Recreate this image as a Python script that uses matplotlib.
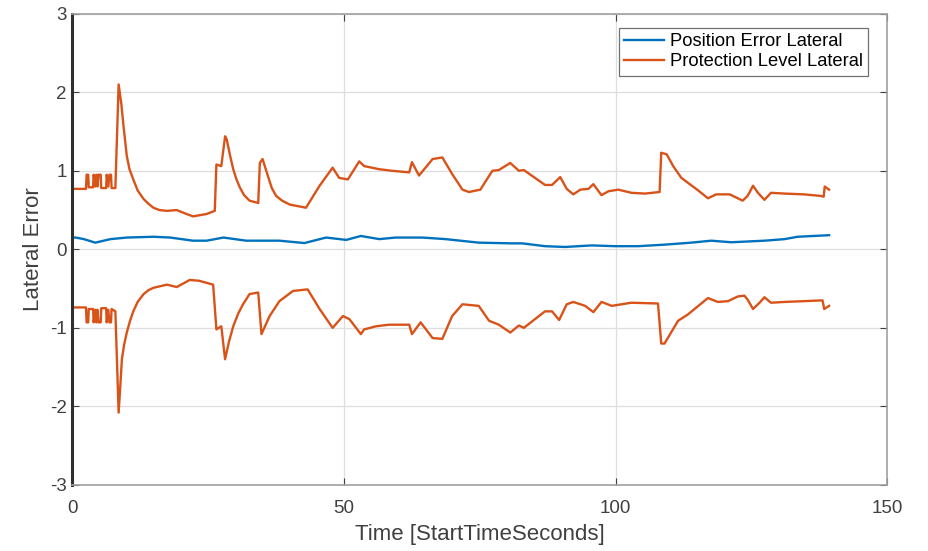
#!/usr/bin/python3

import numpy
import matplotlib
matplotlib.use("Agg")
import matplotlib.pyplot as plt

# values (time, value)
pe_lateral = [(0, 0.15), (0.6, 0.15), (2.1, 0.13), (4.2, 0.085), (7.0, 0.13),
              (10.0, 0.15), (14.9, 0.16), (18.0, 0.15), (22.2, 0.11), (24.7, 0.11),
              (27.8, 0.15), (32.0, 0.11), (38.1, 0.11), (42.7, 0.08), (46.7, 0.15),
              (50.4, 0.12), (53.1, 0.17), (56.5, 0.13), (59.5, 0.15), (64.4, 0.15),
              (68.7, 0.13), (74.8, 0.085), (80.9, 0.076), (82.8, 0.076), (87.0, 0.04),
              (90.7, 0.03), (95.6, 0.05), (99.9, 0.04), (104.2, 0.04), (109.1, 0.06),
              (113.9, 0.085), (117.6, 0.11), (121.3, 0.09), (127.4, 0.11),
              (131.1, 0.13), (133.5, 0.16), (139.3, 0.18)]

pl_upper = [(0, 0.77), (2.5, 0.77), (2.6, 0.95), (2.9, 0.95), (3.0, 0.79),
            (3.8, 0.79), (3.9, 0.95), (4.2, 0.80), (4.4, 0.95), (4.6, 0.80),
            (4.8, 0.95), (5.2, 0.95), (5.3, 0.78), (6.2, 0.78), (6.3, 0.95),
            (6.6, 0.80), (6.8, 0.95), (7.1, 0.95), (7.2, 0.78), (7.9, 0.78),
            (8.5, 2.10), (9.0, 1.85), (9.4, 1.57), (10.0, 1.19), (10.5, 1.02),
            (11.2, 0.89), (12.0, 0.75), (13.1, 0.64), (14.0, 0.58), (14.9, 0.53),
            (16.0, 0.50), (17.4, 0.49), (19.2, 0.50), (21.0, 0.45), (22.2, 0.42),
            (24.7, 0.45), (26.2, 0.49), (26.5, 1.08), (27.4, 1.06), (28.1, 1.44),
            (28.4, 1.40), (29.0, 1.20), (29.6, 1.02), (30.2, 0.89), (30.8, 0.79),
            (31.6, 0.69), (32.6, 0.62), (34.2, 0.59),
            (34.5, 1.10), (35.0, 1.15), (36.0, 0.93), (36.7, 0.78), (37.5, 0.68),
            (38.6, 0.62), (40.0, 0.57),
            (43.0, 0.53), (45.5, 0.81), (47.9, 1.04), (49.1, 0.91), (50.7, 0.89),
            (52.8, 1.12), (53.7, 1.06), (56.5, 1.02), (58.9, 1.00), (62.0, 0.98),
            (62.5, 1.11), (63.8, 0.94), (65.0, 1.04), (66.3, 1.15), (68.1, 1.17),
            (68.7, 1.10), (69.9, 0.96), (71.8, 0.76), (73.0, 0.73), (75.1, 0.76),
            (77.3, 1.00), (78.5, 1.01), (80.6, 1.10), (82.2, 1.00), (83.1, 1.01),
            (87.0, 0.82), (88.3, 0.82), (89.8, 0.92), (91.0, 0.77), (92.2, 0.70),
            (93.5, 0.76), (95.0, 0.77), (95.9, 0.83), (97.4, 0.69), (98.7, 0.74),
            (100.5, 0.76), (102.9, 0.72), (105.4, 0.71), (108.1, 0.73), (108.4, 1.23),
            (109.4, 1.21), (110.6, 1.06), (112.1, 0.91), (115.2, 0.75), (117.0, 0.65),
            (118.5, 0.70), (121.0, 0.70), (123.4, 0.62), (124.3, 0.68), (125.3, 0.81),
            (126.2, 0.72), (127.4, 0.63), (128.6, 0.72), (131.1, 0.71), (134.7, 0.70),
            (137.8, 0.68), (138.3, 0.67), (138.5, 0.80), (139.3, 0.76)]

pl_lower = [(0, -0.74), (2.5, -0.74), (2.6, -0.93), (2.9, -0.93), (3.0, -0.76),
            (3.8, -0.76), (3.9, -0.93), (4.2, -0.77), (4.4, -0.93), (4.6, -0.77),
            (4.8, -0.93), (5.2, -0.93), (5.3, -0.75), (6.2, -0.75), (6.3, -0.93),
            (6.6, -0.77), (6.8, -0.93), (7.1, -0.93), (7.2, -0.76), (7.9, -0.79),
            (8.5, -2.08), (8.8, -1.75), (9.1, -1.40), (9.5, -1.22), (10.0, -1.06),
            (10.6, -0.91), (11.2, -0.79), (12.0, -0.67), (13.1, -0.57), (14.0, -0.52),
            (14.9, -0.49), (17.4, -0.45), (19.2, -0.48), (21.6, -0.39), (23.3, -0.40),
            (25.9, -0.45), (26.5, -1.02), (27.4, -0.98), (28.1, -1.40), (28.8, -1.18),
            (29.6, -0.98), (30.5, -0.82),
            (31.4, -0.70), (32.6, -0.57), (34.2, -0.55), (34.8, -1.08), (36.3, -0.85),
            (38.1, -0.66), (40.6, -0.53), (43.3, -0.51), (45.5, -0.76), (47.9, -1.00),
            (49.8, -0.85), (51.0, -0.89), (53.1, -1.08), (53.7, -1.02), (55.9, -0.98),
            (58.3, -0.96), (62.0, -0.96), (62.5, -1.08), (64.1, -0.93), (66.3, -1.13),
            (68.1, -1.14), (69.9, -0.85), (71.8, -0.70), (74.8, -0.72), (76.7, -0.91),
            (78.5, -0.96), (80.6, -1.06), (82.2, -0.97), (83.1, -1.00), (87.0, -0.79),
            (88.3, -0.79), (89.6, -0.90), (91.0, -0.70), (92.2, -0.67), (94.4, -0.72),
            (95.9, -0.80), (97.4, -0.67), (99.3, -0.72), (102.9, -0.68), (107.8, -0.69),
            (108.4, -1.20), (109.0, -1.20), (111.5, -0.91), (113.3, -0.83), (117.0, -0.62),
            (118.8, -0.67), (120.7, -0.66), (122.5, -0.60), (123.7, -0.59), (124.3, -0.64),
            (125.3, -0.76), (126.5, -0.68), (127.4, -0.61), (128.6, -0.68), (131.1, -0.67),
            (134.7, -0.66), (138.1, -0.65), (138.4, -0.76), (139.3, -0.72)]

x_ticks = [0, 50, 100, 150]
y_ticks = [-3, -2, -1, 0, 1, 2, 3]

blue = "#0072BD"
orange = "#D95319"
tick_col = "#404040"

plt.rcParams["font.family"] = ["Liberation Sans", "DejaVu Sans"]
plt.rcParams["axes.unicode_minus"] = False

fig = plt.figure(figsize=(9.29, 5.51), dpi=100)
ax = fig.add_axes([0.078, 0.12, 0.877, 0.855])

t, v = zip(*pe_lateral)
ax.plot(t, v, color=blue, lw=1.7, label="Position Error Lateral")
t, v = zip(*pl_upper)
ax.plot(t, v, color=orange, lw=1.7, label="Protection Level Lateral")
t, v = zip(*pl_lower)
ax.plot(t, v, color=orange, lw=1.7)

ax.set_xlim(0, 150)
ax.set_ylim(-3, 3)
ax.set_xticks(x_ticks)
ax.set_yticks(y_ticks)
ax.grid(True, color="#dedede", lw=0.9)
ax.set_axisbelow(True)

ax.tick_params(direction="in", length=5, width=0.8, colors=tick_col,
               labelsize=13.5, top=True, right=True, pad=4)
ax.tick_params(axis="x", pad=11)
for name, sp in ax.spines.items():
    sp.set_color("#a0a0a0")
    sp.set_linewidth(1.2)
ax.spines["left"].set_color("#303030")
ax.spines["left"].set_linewidth(2.2)

ax.set_xlabel("Time [StartTimeSeconds]", fontsize=16, color=tick_col, labelpad=5)
ax.set_ylabel("Lateral Error", fontsize=16, color=tick_col, labelpad=4)

leg = ax.legend(loc="upper right", bbox_to_anchor=(0.977, 0.970),
                fontsize=13.2, fancybox=False, framealpha=1,
                handlelength=2.2, handletextpad=0.3, borderpad=0.3,
                labelspacing=0.15, borderaxespad=0)
leg.get_frame().set_edgecolor("#707070")
leg.get_frame().set_linewidth(0.9)

fig.savefig("out.png", dpi=100)
